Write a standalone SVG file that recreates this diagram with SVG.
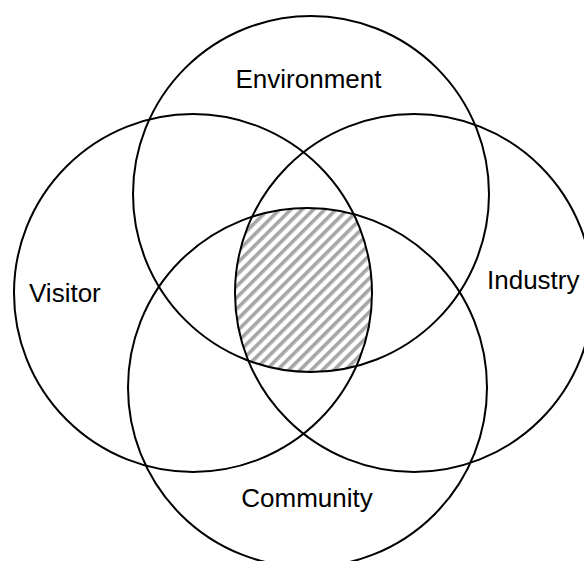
<svg xmlns="http://www.w3.org/2000/svg" width="584" height="561" viewBox="0 0 584 561">
  <style>
    .set { fill: none; stroke: #000; stroke-width: 2; }
    .label { font-family: "Liberation Sans", Arial, sans-serif; font-size: 26px; fill: #000; }
  </style>
  <defs>
    <pattern id="hatch" patternUnits="userSpaceOnUse" width="8" height="8" patternTransform="rotate(45)">
      <rect x="0" y="0" width="8" height="8" fill="#fff"/>
      <rect x="0" y="0" width="3.6" height="8" fill="#a6a6a6"/>
    </pattern>
    <clipPath id="clipEnv"><circle cx="311" cy="194" r="178"/></clipPath>
    <clipPath id="clipVis"><circle cx="193" cy="293" r="179"/></clipPath>
    <clipPath id="clipInd"><circle cx="414" cy="293" r="179"/></clipPath>
    <clipPath id="clipCom"><circle cx="307.5" cy="387.5" r="179.5"/></clipPath>
  </defs>
  <rect width="584" height="561" fill="#fff"/>
  <g id="overlap">
    <g clip-path="url(#clipEnv)">
      <g clip-path="url(#clipVis)">
        <g clip-path="url(#clipInd)">
          <rect x="0" y="0" width="584" height="561" fill="url(#hatch)" clip-path="url(#clipCom)"/>
        </g>
      </g>
    </g>
  </g>
  <g id="environment">
    <circle class="set" cx="311" cy="194" r="178"/>
    <text class="label" x="308.5" y="88" text-anchor="middle">Environment</text>
  </g>
  <g id="visitor">
    <circle class="set" cx="193" cy="293" r="179"/>
    <text class="label" x="29" y="302">Visitor</text>
  </g>
  <g id="industry">
    <circle class="set" cx="414" cy="293" r="179"/>
    <text class="label" x="487" y="289">Industry</text>
  </g>
  <g id="community">
    <circle class="set" cx="307.5" cy="387.5" r="179.5"/>
    <text class="label" x="307" y="507" text-anchor="middle">Community</text>
  </g>
</svg>
